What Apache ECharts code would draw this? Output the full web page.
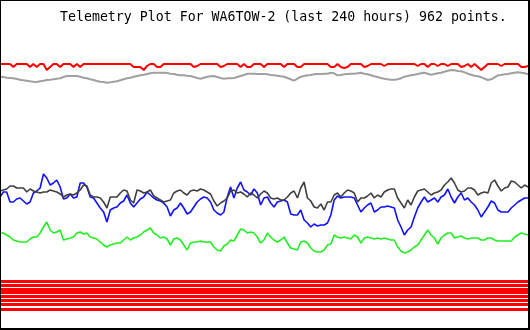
<!DOCTYPE html>
<html><head><meta charset="utf-8">
<script src="https://cdn.jsdelivr.net/npm/echarts@6/dist/echarts.min.js"></script>
<style>html,body{margin:0;padding:0;background:#fff}#c{width:530px;height:330px}</style>
</head><body><div id="c"></div>
<script>
// Title
var titleText = 'Telemetry Plot For WA6TOW-2 (last 240 hours) 962 points.';

// Sample index (159 resampled points over the 240-hour window)
var sampleCount = 159;

// Series values (plot level)
var redTop = [
64,64,64,64,67,64,64,64,64,67,
64,67,64,64,70,67,64,64,67,64,
64,64,67,64,67,64,64,64,64,64,
64,64,64,64,64,64,64,64,64,64,
67,67,67,70,66,64,64,67,67,64,
64,64,64,64,64,64,64,64,67,66,
64,64,64,64,64,64,67,66,64,64,
64,64,67,64,67,67,64,64,64,67,
64,64,64,64,64,67,64,64,64,67,
67,64,64,64,64,64,64,64,64,67,
67,64,67,68,67,64,64,64,64,67,
66,64,64,64,64,66,64,64,64,64,
64,64,64,64,64,66,64,64,67,64,
64,66,64,64,66,64,64,64,67,66,
64,67,64,67,70,67,64,64,64,64,
66,64,64,64,64,64,67,67,66];

var gray = [
76.7,77,77.7,78,78.3,79,79.7,80.3,80.7,81.3,81.7,82,81.3,80.7,80,79.7,79.3,78.7,78.3,77,76,76,76,76,76.7,77.7,78.3,79.3,80,81,81.7,82,82.7,82.3,81.7,81.3,80.3,79.3,78.3,77.7,76.7,76,75.3,74.7,74,73.3,72.7,72.7,72.7,72.7,73,73.7,74,74.7,
75.3,75.3,75.7,76,77,78,78.7,77.7,76.7,76.3,76,77,78,78.7,78.3,78.3,78,77,76,75,73.7,73.7,73.7,74,74,74,74.3,75,75.3,75.7,76.3,76.7,78,79.3,80.7,78.7,76.7,76,75.3,75,74.3,74,74,73.7,73.7,72.7,73.3,75.3,75,74.3,74,73.7,73.7,73.3,
72.7,73.7,74.3,75.3,76.3,77,78,78.7,79.3,79.7,79.7,79.3,78.3,76.7,76,75.3,74.7,74,73.3,72.7,73.7,74.7,74,73.3,72.7,71.7,70.7,70,70.3,71,71.3,72.3,73.7,74.7,75.7,76.3,77.3,78.7,80,79.3,77.3,75.3,75,74.3,74,73.3,72.7,72.3,72.7,73.3,74.3];

var black = [
191,190,189,186,186,188,188,188,192,189,191,192,193,192,192,190,191,192,194,197,195,194,195,193,190,185,186,195,197,197,198,202,208,197,197,197,193,190,191,200,203,190,191,193,192,190,196,198,200,202,201,200,193,191,
190,193,195,191,190,191,189,190,192,194,201,206,203,201,198,191,190,193,192,194,197,193,195,198,194,191,193,198,199,198,200,200,197,193,191,198,188,182,198,201,207,208,204,210,202,202,195,193,197,193,190,191,193,202,
198,198,196,193,198,195,197,192,190,189,189,198,203,208,200,205,197,191,190,189,192,195,193,192,190,185,182,178,183,190,192,191,188,188,190,195,193,192,193,183,180,186,191,188,187,181,182,185,188,185,187];

var blue = [
197,192,192,202,202,199,198,201,204,202,193,191,188,174,178,185,183,180,187,199,198,194,198,197,183,183,187,197,198,203,208,212,222,210,208,207,203,201,195,203,207,203,199,197,192,195,198,200,201,203,207,216,210,208,
203,208,214,212,207,202,199,197,198,202,210,213,215,212,197,187,198,188,182,190,192,195,189,193,205,198,197,203,207,202,201,200,202,214,215,215,210,220,223,227,224,226,225,225,223,215,200,196,198,197,197,197,198,205,
212,208,205,203,212,210,207,207,206,207,208,220,227,235,230,227,217,208,202,197,202,200,198,202,197,195,189,197,203,197,193,200,198,202,205,210,217,212,207,201,203,210,212,212,212,208,205,202,200,198,198];

var green = [
233,233,235,237,240,241,242,242,242,239,237,237,233,227,222,230,233,232,230,240,239,238,237,233,232,234,233,237,238,239,242,245,247,245,244,243,243,240,237,240,238,237,235,232,230,228,233,235,238,237,239,245,239,238,
240,245,250,243,242,242,241,242,242,242,247,250,251,246,244,240,241,235,229,230,233,232,233,237,243,240,233,237,240,242,240,237,243,248,249,250,242,241,243,248,251,252,252,250,245,244,235,237,238,237,238,239,235,237,
243,238,237,238,239,238,239,238,239,240,240,247,251,253,252,250,247,245,240,235,230,235,238,244,238,235,233,233,238,237,236,238,239,238,238,238,240,240,238,238,240,241,241,241,241,241,237,235,233,234,235];

// Flat channels at the bottom (levels)
var bandLevels = [281.3, 285.3, 289, 292.7, 296.7, 300.5, 304.7, 309];

var categories = [];
for (var i = 0; i < sampleCount; i++) categories.push(String(i));

function lineSeries(name, data, color, width, z) {
  return {
    name: name, type: 'line', data: data, symbol: 'none', z: z,
    lineStyle: { color: color, width: width }, silent: true
  };
}

var chart = echarts.init(document.getElementById('c'), null, { renderer: 'canvas' });
chart.setOption({
  animation: false,
  backgroundColor: '#fff',
  title: {
    text: titleText, left: 60, top: 11, padding: 0,
    textStyle: { fontFamily: 'DejaVu Sans Mono', fontSize: 13.25, fontWeight: 'normal', color: '#000' }
  },
  grid: { left: 0, right: 2, top: 0, bottom: 0 },
  xAxis: { type: 'category', data: categories, boundaryGap: false, show: false },
  yAxis: { type: 'value', min: 0, max: 330, inverse: true, show: false },
  series: [
    {
      name: 'bands', type: 'line', data: [], symbol: 'none', silent: true,
      markLine: {
        symbol: ['none', 'none'], silent: true, label: { show: false },
        lineStyle: { color: '#ff0000', width: 3, type: 'solid' },
        data: bandLevels.map(function (v) { return { yAxis: v }; })
      }
    },
    lineSeries('gray', gray, '#a0a0a0', 2, 2),
    lineSeries('red', redTop, '#ff0000', 2, 3),
    lineSeries('green', green, '#22ee22', 1.6, 4),
    lineSeries('blue', blue, '#1111ff', 1.6, 5),
    lineSeries('black', black, '#404040', 1.6, 6)
  ],
  graphic: [{
    type: 'rect', z: 100, silent: true,
    shape: { x: 0, y: 0, width: 529, height: 329 },
    style: { fill: 'none', stroke: '#000', lineWidth: 2 }
  }]
});
</script>
</body></html>
